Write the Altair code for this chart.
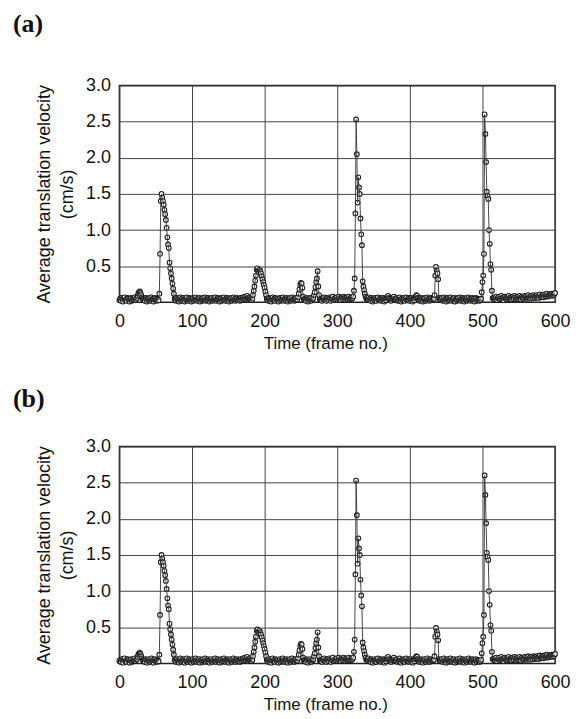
import altair as alt
import pandas as pd

# ---- baseline segments (first frame, then one value per frame) ----
seg0_start = 0
seg0_y = [0.03, 0.05, 0.02, 0.06, 0.04, 0.01, 0.05, 0.07, 0.03, 0.04,
          0.02, 0.06, 0.05, 0.03, 0.01, 0.04, 0.06, 0.02, 0.05, 0.03,
          0.04, 0.07, 0.03, 0.05, 0.06, 0.09, 0.12, 0.14, 0.15, 0.13,
          0.10, 0.07, 0.05, 0.03, 0.04, 0.02, 0.06, 0.04, 0.01, 0.05,
          0.03, 0.06, 0.02, 0.04, 0.07, 0.03, 0.05, 0.01, 0.04, 0.06,
          0.03, 0.05, 0.02, 0.04]
seg1_start = 77
seg1_y = [0.04, 0.02, 0.06, 0.03, 0.05, 0.01, 0.04, 0.07, 0.02, 0.05,
          0.03, 0.06, 0.04, 0.01, 0.05, 0.03, 0.07, 0.02, 0.04, 0.06,
          0.03, 0.05, 0.01, 0.04, 0.06, 0.02, 0.05, 0.03, 0.07, 0.04,
          0.02, 0.05, 0.03, 0.06, 0.01, 0.04, 0.05, 0.02, 0.06, 0.03,
          0.04, 0.07, 0.02, 0.05, 0.03, 0.06, 0.04, 0.01, 0.05, 0.03,
          0.06, 0.02, 0.04, 0.05, 0.03, 0.07, 0.02, 0.04, 0.06, 0.03,
          0.05, 0.01, 0.04, 0.06, 0.02, 0.05, 0.03, 0.07, 0.04, 0.02,
          0.05, 0.03, 0.06, 0.04, 0.01, 0.05, 0.03, 0.06, 0.02, 0.04,
          0.07, 0.03, 0.05, 0.02, 0.04, 0.06, 0.03, 0.05, 0.04, 0.02,
          0.06, 0.03, 0.05, 0.07, 0.04, 0.06, 0.08, 0.05, 0.07, 0.09,
          0.06, 0.05, 0.07, 0.04, 0.06, 0.03]
seg2_start = 204
seg2_y = [0.04, 0.02, 0.06, 0.03, 0.05, 0.01, 0.04, 0.07, 0.03, 0.05,
          0.02, 0.06, 0.04, 0.03, 0.05, 0.01, 0.04, 0.06, 0.02, 0.05,
          0.03, 0.07, 0.04, 0.02, 0.05, 0.03, 0.06, 0.04, 0.01, 0.05,
          0.03, 0.06, 0.02, 0.04, 0.07, 0.03, 0.05, 0.02, 0.04, 0.06,
          0.03]
seg3_start = 255
seg3_y = [0.03, 0.05, 0.02, 0.06, 0.04, 0.01, 0.05, 0.03, 0.06, 0.02, 0.04]
seg4_start = 277
seg4_y = [0.03, 0.05, 0.02, 0.06, 0.04, 0.07, 0.03, 0.05, 0.02, 0.06,
          0.04, 0.03, 0.07, 0.05, 0.02, 0.06, 0.04, 0.08, 0.03, 0.05,
          0.06, 0.04, 0.07, 0.03, 0.05, 0.08, 0.04, 0.06, 0.03, 0.07,
          0.05, 0.04, 0.08, 0.06, 0.03, 0.05, 0.07, 0.04, 0.06, 0.08,
          0.05, 0.04, 0.07, 0.05, 0.06]
seg5_start = 341
seg5_y = [0.06, 0.04, 0.07, 0.03, 0.05, 0.02, 0.06, 0.04, 0.01, 0.05,
          0.03, 0.06, 0.04, 0.02, 0.05, 0.07, 0.03, 0.04, 0.06, 0.02,
          0.05, 0.03, 0.06, 0.04, 0.01, 0.05, 0.03, 0.06, 0.08, 0.09,
          0.06, 0.03, 0.05, 0.02, 0.04, 0.06, 0.07, 0.08, 0.05, 0.03,
          0.04, 0.06, 0.02, 0.05, 0.03, 0.07, 0.04, 0.01, 0.05, 0.03,
          0.06, 0.04, 0.02, 0.05, 0.07, 0.03, 0.04, 0.06, 0.02, 0.05,
          0.03, 0.06, 0.04, 0.01, 0.05, 0.03, 0.06, 0.08, 0.10, 0.09,
          0.06, 0.04, 0.02, 0.05, 0.03, 0.06, 0.04, 0.01, 0.05, 0.03,
          0.06, 0.02, 0.04, 0.07, 0.03, 0.05, 0.02, 0.04, 0.06, 0.03,
          0.05, 0.04]
seg6_start = 442
seg6_y = [0.05, 0.03, 0.06, 0.02, 0.04, 0.07, 0.03, 0.05, 0.01, 0.04,
          0.06, 0.02, 0.05, 0.03, 0.07, 0.04, 0.02, 0.05, 0.03, 0.06,
          0.01, 0.04, 0.05, 0.02, 0.06, 0.03, 0.04, 0.07, 0.02, 0.05,
          0.03, 0.06, 0.04, 0.01, 0.05, 0.03, 0.06, 0.02, 0.04, 0.07,
          0.03, 0.05, 0.02, 0.04, 0.06, 0.03, 0.05, 0.01, 0.04, 0.06,
          0.02, 0.05, 0.03, 0.04, 0.02, 0.03]
seg7_start = 515
seg7_y = [0.05, 0.07, 0.04, 0.06, 0.08, 0.03, 0.06, 0.05, 0.08, 0.04,
          0.06, 0.09, 0.05, 0.07, 0.03, 0.06, 0.08, 0.05, 0.07, 0.04,
          0.06, 0.09, 0.05, 0.07, 0.06, 0.04, 0.08, 0.06, 0.05, 0.09,
          0.07, 0.04, 0.06, 0.08, 0.05, 0.07, 0.09, 0.06, 0.04, 0.08,
          0.06, 0.07, 0.05, 0.09, 0.06, 0.08, 0.05, 0.07, 0.10, 0.06,
          0.08, 0.05, 0.09, 0.07, 0.06, 0.10, 0.08, 0.06, 0.09, 0.07,
          0.10, 0.08, 0.06, 0.09, 0.11, 0.07, 0.09, 0.08, 0.10, 0.07,
          0.11, 0.09, 0.08, 0.10, 0.12, 0.08, 0.10, 0.09, 0.11, 0.10,
          0.12, 0.09, 0.11, 0.10, 0.12, 0.13]

# ---- peaks (first frame, then one value per frame) ----
p1_start = 54
p1_y = [0.03, 0.12, 0.67, 1.40, 1.50, 1.45, 1.40, 1.35, 1.28, 1.22, 1.14, 1.03, 0.90, 0.80,
        0.75, 0.55, 0.47, 0.40, 0.33, 0.26, 0.19, 0.12, 0.05]
p2_start = 183
p2_y = [0.05, 0.10, 0.16, 0.22, 0.30, 0.37, 0.45, 0.47, 0.44, 0.42, 0.45, 0.43, 0.40, 0.36,
        0.32, 0.28, 0.24, 0.20, 0.15, 0.10, 0.05]
p3_start = 245
p3_y = [0.04, 0.07, 0.12, 0.18, 0.24, 0.27, 0.26, 0.20, 0.08, 0.04]
p4_start = 266
p4_y = [0.04, 0.06, 0.10, 0.14, 0.21, 0.28, 0.33, 0.43, 0.22, 0.10, 0.04]
p5_start = 322
p5_y = [0.08, 0.16, 0.33, 1.23, 2.53, 2.05, 1.38, 1.73, 1.59, 1.50, 1.16, 0.94, 0.79, 0.29,
        0.22, 0.17, 0.12, 0.08, 0.05]
p6_start = 433
p6_y = [0.05, 0.10, 0.37, 0.49, 0.44, 0.40, 0.32, 0.06, 0.04]
p7_start = 498
p7_y = [0.05, 0.14, 0.28, 0.37, 0.67, 2.60, 2.33, 1.94, 1.53, 1.47, 1.43, 1.00, 0.81, 0.53,
        0.45, 0.16, 0.06]

x_ticks = [0, 100, 200, 300, 400, 500, 600]
y_ticks = [0.5, 1.0, 1.5, 2.0, 2.5, 3.0]
panel_labels = ["(a)", "(b)"]

segments = [(seg0_start, seg0_y), (seg1_start, seg1_y), (seg2_start, seg2_y),
            (seg3_start, seg3_y), (seg4_start, seg4_y), (seg5_start, seg5_y),
            (seg6_start, seg6_y), (seg7_start, seg7_y),
            (p1_start, p1_y), (p2_start, p2_y), (p3_start, p3_y), (p4_start, p4_y),
            (p5_start, p5_y), (p6_start, p6_y), (p7_start, p7_y)]

rows = {}
for s, ys in segments:
    for i, v in enumerate(ys):
        rows[s + i] = v
frames = sorted(f for f in rows if f <= 600)
df = pd.DataFrame({"frame": frames, "v": [rows[f] for f in frames]})

FONT = "Liberation Sans, Arial, sans-serif"


def panel(label, label_dy):
    base = alt.Chart(df)
    x = alt.X("frame:Q", scale=alt.Scale(domain=[0, 600], nice=False),
              axis=alt.Axis(values=x_ticks, title="Time (frame no.)", format="d",
                            labelPadding=10, titlePadding=5, labelFlush=False,
                            titleFontSize=17, titleX=207))
    y = alt.Y("v:Q", scale=alt.Scale(domain=[0, 3], nice=False),
              axis=alt.Axis(values=y_ticks, format=".1f", labelPadding=9, titlePadding=9,
                            titleLineHeight=23,
                            title=["Average translation velocity", "(cm/s)"]))
    pts = base.mark_circle(fill="white", stroke="#1a1a1a", strokeWidth=1.1,
                           size=22, opacity=1).encode(x=x, y=y)
    line = base.mark_line(color="#333333", strokeWidth=0.9).encode(x=x, y=y)
    lab = alt.Chart(pd.DataFrame({"t": [label]})).mark_text(
        font="Liberation Serif", fontWeight="bold", fontSize=26,
        align="left", baseline="middle", color="#111111"
    ).encode(x=alt.value(-107), y=alt.value(label_dy), text="t:N")
    return alt.layer(pts, line, lab).properties(width=438, height=218)


chart = alt.vconcat(
    panel(panel_labels[0], -62),
    panel(panel_labels[1], -48),
    spacing=33,
).properties(
    padding={"left": 4, "top": 0, "right": 0, "bottom": 0}
).configure_view(
    stroke="#222222", strokeWidth=1.5
).configure_axis(
    grid=True, gridColor="#444444", gridWidth=1, gridOpacity=1,
    ticks=False, domain=False,
    labelFont=FONT, labelFontSize=18, labelColor="#111111",
    titleFont=FONT, titleFontSize=18, titleColor="#111111", titleFontWeight="normal",
)

chart.save("out.html", embed_options={"renderer": "svg", "actions": False})
